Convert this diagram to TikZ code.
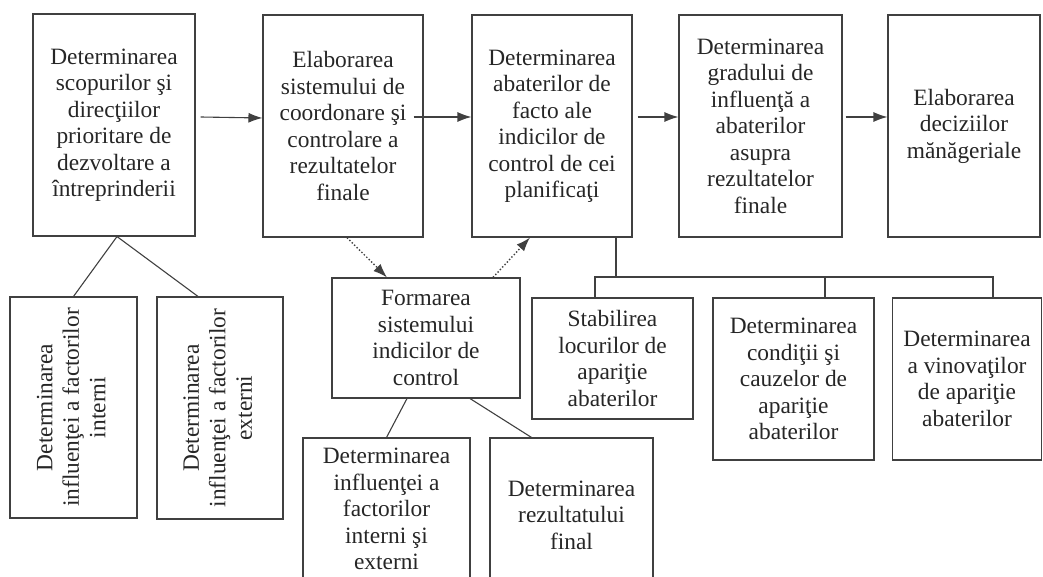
\documentclass[tikz,border=0pt]{standalone}
\usepackage{fontspec}
\setmainfont{Liberation Serif}
\usepackage{graphicx}
\usetikzlibrary{arrows.meta}
\tikzset{%
  stagebox/.style = {shape=rectangle, draw, align=center, inner sep=0pt},%
  flow/.style     = {-{Latex[length=14pt,width=10pt]}},%
  dotflow/.style  = {flow, dotted, line width=1.4pt},%
  tie/.style      = {line width=1.1pt}%
}
\newcommand{\uptext}[1]{\rotatebox{90}{\begin{tabular}{@{}c@{}}#1\end{tabular}}}

\begin{document}
\begin{tikzpicture}[x=1pt,y=-1pt,line width=1.1pt,draw=black!75,
	every node/.style={font=\fontsize{23.4}{26.5}\selectfont,text=black!85}]%
	\useasboundingbox (0,0) rectangle (1043,577);%
	\clip (0,0) rectangle (1043,577);%
	% top row
	\node[stagebox,minimum width=162pt,minimum height=222pt] (scop) at (114,125)
		{Determinarea\\ scopurilor şi\\ direcţiilor\\ prioritare de\\ dezvoltare a\\ întreprinderii};%
	\node[stagebox,minimum width=160pt,minimum height=222pt] (elab) at (343,126)
		{Elaborarea\\ sistemului de\\ coordonare şi\\ controlare a\\ rezultatelor\\ finale};%
	\node[stagebox,minimum width=160pt,minimum height=222pt] (abat) at (552,126)
		{Determinarea\\ abaterilor de\\ facto ale\\ indicilor de\\ control de cei\\ planificaţi};%
	\node[stagebox,minimum width=163pt,minimum height=222pt] (grad) at (760.5,126)
		{Determinarea\\ gradului de\\ influenţă a\\ abaterilor\\ asupra\\ rezultatelor\\ finale};%
	\node[stagebox,minimum width=152pt,minimum height=222pt] (dec) at (964,126)
		{Elaborarea\\ deciziilor\\ mănăgeriale};%
	% left branch
	\node[stagebox,minimum width=127pt,minimum height=221pt] (intern) at (73.5,407.5)
		{\uptext{Determinarea\\ influenţei a factorilor\\ interni}};%
	\node[stagebox,minimum width=126pt,minimum height=222pt] (extern) at (220,408)
		{\uptext{Determinarea\\ influenţei a factorilor\\ externi}};%
	% middle branch
	\node[stagebox,minimum width=188pt,minimum height=120pt] (form) at (426,338)
		{Formarea\\ sistemului\\ indicilor de\\ control};%
	\node[stagebox,minimum width=167pt,minimum height=142pt] (infl) at (386.5,509)
		{Determinarea\\ influenţei a\\ factorilor\\ interni şi\\ externi};%
	\node[stagebox,minimum width=163pt,minimum height=154pt] (rez) at (571.5,515)
		{Determinarea\\ rezultatului\\ final};%
	% right branch
	\node[stagebox,minimum width=161pt,minimum height=121pt] (loc) at (612.5,358.5)
		{Stabilirea\\ locurilor de\\ apariţie\\ abaterilor};%
	\node[stagebox,minimum width=161pt,minimum height=162pt] (cauz) at (793.5,379)
		{Determinarea\\ condiţii şi\\ cauzelor de\\ apariţie\\ abaterilor};%
	\node[stagebox,minimum width=149pt,minimum height=162pt] (vin) at (967,379)
		{Determinarea\\ a vinovaţilor\\ de apariţie\\ abaterilor};%
	% arrows
	\draw[flow] ([xshift=5pt,yshift=8pt]scop.east) -- ([yshift=8pt]elab.west);%
	\draw[flow] ([xshift=-10pt,yshift=9pt]elab.east) -- ([yshift=9pt]abat.west);%
	\draw[flow] ([xshift=5pt,yshift=9pt]abat.east) -- ([yshift=9pt]grad.west);%
	\draw[flow] ([xshift=3pt,yshift=9pt]grad.east) -- ([yshift=9pt]dec.west);%
	\draw[dotflow] ([xshift=4pt]elab.south) -- ([xshift=-39pt]form.north);%
	\draw[dotflow] ([xshift=67pt]form.north) -- ([xshift=-22pt]abat.south);%
	% ties
	\draw[tie] ([xshift=3pt]scop.south) -- (intern.north);%
	\draw[tie] ([xshift=3pt]scop.south) -- ([xshift=-22pt]extern.north);%
	\draw[tie] ([xshift=-19pt]form.south) -- (infl.north);%
	\draw[tie] ([xshift=44pt]form.south) -- ([xshift=-40pt]rez.north);%
	\coordinate (busL) at (595,277);%
	\coordinate (busR) at (993,277);%
	\draw[tie] ([xshift=64pt]abat.south) -- ([xshift=64pt]abat.south |- busL);%
	\draw[tie] ([xshift=-17.5pt]loc.north) |- (busR) -- ([xshift=26pt]vin.north);%
	\draw[tie] ([xshift=31.5pt]cauz.north) -- ([xshift=31.5pt]cauz.north |- busL);%
\end{tikzpicture}
\end{document}
